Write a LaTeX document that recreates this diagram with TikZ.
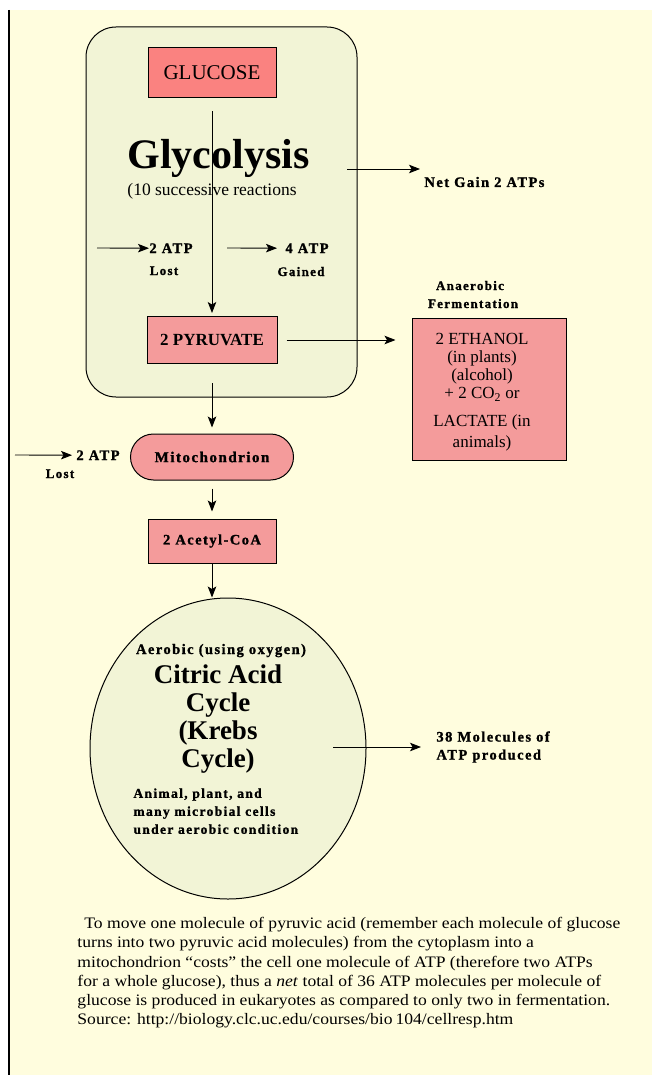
\documentclass[tikz,border=0pt]{standalone}
\usepackage{fontspec}
\setmainfont{Liberation Serif}
\newfontfamily\bitmapbf[LetterSpace=10,BoldFeatures={FakeBold=1.2}]{Liberation Serif}
\newfontfamily\parafont[FakeStretch=1.1]{Liberation Serif}
\usetikzlibrary{arrows.meta,shapes.geometric}

\definecolor{cream}{RGB}{255,253,222}
\definecolor{palegreen}{RGB}{242,244,214}
\definecolor{salmon}{RGB}{250,130,128}
\definecolor{rose}{RGB}{244,155,155}
\newcommand{\setfs}[2]{\fontsize{#1}{#2}\selectfont}

\tikzset{
  stagebox/.style={draw=black,line width=1pt,fill=rose,inner sep=0pt},
  tag/.style={inner sep=0pt,font=\bitmapbf\bfseries\setfs{14.5}{18}},
  small tag/.style={inner sep=0pt,font=\bitmapbf\bfseries\setfs{13}{16}},
}

\begin{document}
\begin{tikzpicture}[x=1pt,y=-1pt,->,>={Stealth[length=11pt,width=8.5pt,inset=2.5pt]},line width=0.9pt]
                \useasboundingbox (0,0) rectangle (652,1075);
                \fill[-,white] (0,0) rectangle (652,1075);
                \fill[-,cream] (9,10) rectangle (652,1075);
                \draw[-,line width=1.3pt] (9,10) -- (9,1075);

                \node[draw=black,line width=1pt,fill=palegreen,rounded corners=30pt,minimum width=271pt,minimum height=370pt](glyco)at(221.5, 212){};
                \node[stagebox,fill=salmon,minimum width=128pt,minimum height=50pt,font=\setfs{21}{21}](glucose)at(212, 73){GLUCOSE};
                \node[inner sep=0pt,anchor=base west,font=\bfseries\setfs{42}{42}](glytitle)at(127, 169){Glycolysis};
                \node[inner sep=0pt,anchor=base west,font=\setfs{17.5}{18}](glysub)at(127, 196){(10 successive reactions};
                \node[tag,anchor=base west](netgain)at(424, 187){Net Gain 2 ATPs};
                \coordinate(netin)at(347, 169);

                \node[tag,anchor=base west](atplostA)at(149, 253){2 ATP};
                \node[small tag,anchor=base](lostA)at(164, 275){Lost};
                \coordinate(lostinA)at(97, 248);
                \node[tag,anchor=base west](atpgain)at(285, 253){4 ATP};
                \node[small tag,anchor=base](gained)at(301, 276){Gained};
                \coordinate(gaininA)at(227, 248);

                \node[stagebox,minimum width=130pt,minimum height=47pt,font=\bfseries\setfs{17}{17}](pyruvate)at(212, 340){2 PYRUVATE};
                \node[small tag,anchor=base](anaer)at(470, 290){Anaerobic};
                \node[small tag,anchor=base](ferm)at(473, 308){Fermentation};
                \node[stagebox,minimum width=154pt,minimum height=142pt](ferment)at(489, 389){};
                \node[inner sep=0pt,anchor=north,align=center,font=\setfs{17}{18}](fermtext)at(482, 333){2 ETHANOL\\(in plants)\\(alcohol)\\+ 2 CO\textsubscript{2} or\\[10pt]LACTATE (in\\[3pt]animals)};

                \node[stagebox,rounded corners=23pt,minimum width=163pt,minimum height=46pt,font=\bitmapbf\bfseries\setfs{15}{15}](mito)at(212, 457){Mitochondrion};
                \node[tag,anchor=base west](atplostB)at(76, 460){2 ATP};
                \node[small tag,anchor=base](lostB)at(60, 478){Lost};
                \coordinate(lostinB)at(15, 455);

                \node[stagebox,minimum width=128pt,minimum height=44pt,font=\bitmapbf\bfseries\setfs{14.5}{14.5}](acetyl)at(212, 541){2 Acetyl-CoA};

                \node[draw=black,line width=1pt,fill=palegreen,shape=ellipse,inner sep=0pt,minimum width=276pt,minimum height=301pt](krebs)at(228, 748.5){};
                \node[tag,anchor=base](aerobic)at(221, 654){Aerobic (using oxygen)};
                \node[inner sep=0pt,anchor=north,align=center,font=\bfseries\setfs{27}{28}](citric)at(218, 664){Citric Acid\\Cycle\\(Krebs\\Cycle)};
                \node[small tag,anchor=north west,align=left,font=\bitmapbf\bfseries\setfs{13.5}{18}](cells)at(133, 788){Animal, plant, and\\many microbial cells\\under aerobic condition};
                \node[tag,anchor=west,align=left](atpout)at(436, 747){38 Molecules of\\ATP produced};
                \coordinate(atpin)at(333, 747);

                \node[inner sep=0pt,anchor=north west,align=left,font=\parafont\setfs{16}{19.2}](note)at(77, 917){\hspace*{7pt}To move one molecule of pyruvic acid (remember each molecule of glucose\\turns into two pyruvic acid molecules) from the cytoplasm into a\\mitochondrion “costs” the cell one molecule of ATP (therefore two ATPs\\for a whole glucose), thus a \textit{net} total of 36 ATP molecules per molecule of\\glucose is produced in eukaryotes as compared to only two in fermentation.\\Source: http://biology.clc.uc.edu/courses/bio\kern3pt104/cellresp.htm};

                \path[](glucose) edge [shorten <=13pt,shorten >=3pt] (pyruvate)
                (pyruvate) edge [shorten <=19pt,shorten >=6pt] (mito)
                (mito) edge [shorten <=8pt,shorten >=7pt] (acetyl)
                (acetyl) edge (acetyl |- krebs.north)
                (pyruvate.east) edge [shorten <=9pt,shorten >=16pt] (pyruvate.east -| ferment.west)
                (netin) edge [shorten >=4pt] (netin -| netgain.west)
                (lostinA) edge (atplostA.west)
                (gaininA) edge [shorten >=8pt] (atpgain.west)
                (lostinB) edge [shorten >=4pt] (atplostB.west)
                (atpin) edge [shorten >=15pt] (atpout.west);
            \end{tikzpicture}
\end{document}
